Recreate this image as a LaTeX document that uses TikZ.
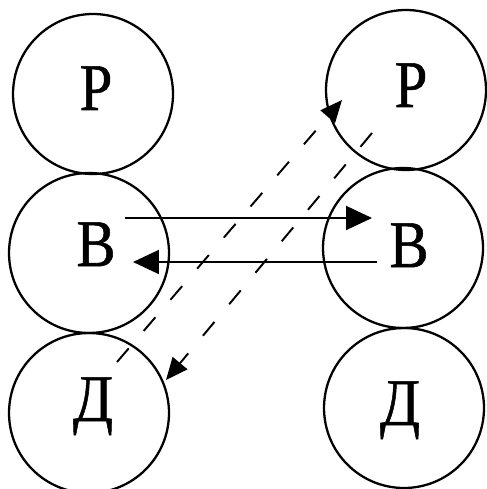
\documentclass[tikz,border=0pt]{standalone}
\usepackage{fontspec}
\setmainfont{Liberation Serif}
\newfontfamily\lettfont[FakeStretch=0.88,FakeBold=0.8]{Liberation Serif}
\usetikzlibrary{arrows.meta}
\begin{document}
\begin{tikzpicture}[x=0.02cm,y=-0.02cm,
  ring/.style={circle,draw,line width=1.3pt,minimum size=3.2cm,inner sep=0pt},
  letter/.style={font=\lettfont\fontsize{38}{38}\selectfont,anchor=base,inner sep=0pt},
  solidarrow/.style={line width=1.1pt,-{Triangle[length=0.52cm,width=0.48cm]}},
  dasharrow/.style={line width=1.1pt,dash pattern=on 0.36cm off 0.46cm,-{Triangle[length=0.44cm,width=0.38cm]}}]
\useasboundingbox (0,0) rectangle (486,489);
% circles
\node[ring] (lp) at (93,94) {};
\node[ring] (lb) at (89,253) {};
\node[ring] (ld) at (89,413) {};
\node[ring] (rp) at (406,90) {};
\node[ring] (rb) at (403,248) {};
\node[ring] (rd) at (404,408) {};
% letters
\node[letter] (tlp) at (96,110) {Р};
\node[letter] (tlb) at (96,266) {В};
\node[letter] (tld) at (93,421) {Д};
\node[letter] (trp) at (411,107) {Р};
\node[letter] (trb) at (409,267) {В};
\node[letter] (trd) at (400,425) {Д};
% arrow end points
\coordinate (a1) at (125,218);
\coordinate (a2) at (372,218);
\coordinate (b1) at (377,262);
\coordinate (b2) at (133,262);
\coordinate (c1) at (117,362);
\coordinate (c2) at (342,100);
\coordinate (d1) at (372,133);
\coordinate (d2) at (166,380);
\draw[solidarrow] (a1) -- (a2);
\draw[solidarrow] (b1) -- (b2);
\draw[dasharrow] (c1) -- (c2);
\draw[dasharrow] (d1) -- (d2);
\end{tikzpicture}
\end{document}
